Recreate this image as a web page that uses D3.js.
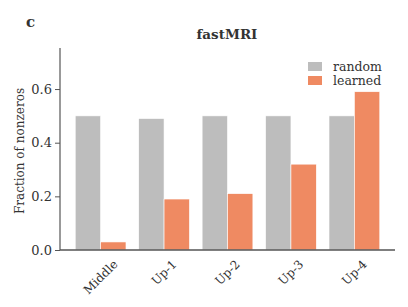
<!DOCTYPE html>
<html>
<head>
<meta charset="utf-8">
<script src="https://cdn.jsdelivr.net/npm/d3@7"></script>
<style>
  body { margin: 0; background: #fff; }
  text { font-family: "DejaVu Serif", "Liberation Serif", serif; fill: #333; }
</style>
</head>
<body>
<svg id="chart" width="408" height="307"></svg>
<script>
var layers = ["Middle", "Up-1", "Up-2", "Up-3", "Up-4"];
var randomVals = [0.50, 0.49, 0.50, 0.50, 0.50];
var learnedVals = [0.03, 0.19, 0.21, 0.32, 0.59];
var yTicks = [0.0, 0.2, 0.4, 0.6];
var seriesNames = ["random", "learned"];
var colors = ["#bdbdbd", "#ef8a62"];

var svg = d3.select("#chart");
var plotLeft = 60, plotRight = 395, plotTop = 48, plotBottom = 250;

var x = d3.scaleLinear().domain([-0.64, 4.64]).range([plotLeft, plotRight]);
var y = d3.scaleLinear().domain([0, 0.753]).range([plotBottom, plotTop]);
var barW = 0.4;

// bars, random left of the tick, learned right of it
var series = [randomVals, learnedVals];
series.forEach(function(vals, s) {
  svg.append("g").selectAll("rect")
    .data(vals)
    .enter().append("rect")
    .attr("x", function(d, i) { return x(i + (s === 0 ? -barW : 0)); })
    .attr("width", x(barW) - x(0))
    .attr("y", function(d) { return y(d); })
    .attr("height", function(d) { return y(0) - y(d); })
    .attr("fill", colors[s])
    .attr("stroke", "#fff")
    .attr("stroke-width", 0.6);
});

// y axis
var yAxis = d3.axisLeft(y).tickValues(yTicks).tickFormat(d3.format(".1f")).tickSize(5).tickPadding(3);
var gy = svg.append("g").attr("transform", "translate(" + plotLeft + ",0)").call(yAxis);
gy.select(".domain").attr("d", "M0," + plotTop + "V" + plotBottom).attr("stroke", "#555").attr("stroke-width", 1.2);
gy.selectAll(".tick line").attr("stroke", "#555");
gy.selectAll(".tick text").style("font-size", "13px").style("font-family", "DejaVu Serif").style("fill", "#333");

// x axis line
svg.append("line")
  .attr("x1", plotLeft).attr("x2", plotRight)
  .attr("y1", plotBottom).attr("y2", plotBottom)
  .attr("stroke", "#555").attr("stroke-width", 1.6);

// x labels: rotated 45deg, centred on the tick, top of the box just under the axis
var labelTop = 259, labelSize = 12;
svg.append("g").selectAll("text")
  .data(layers)
  .enter().append("text")
  .attr("text-anchor", "middle")
  .attr("dominant-baseline", "central")
  .style("font-size", labelSize + "px")
  .text(function(d) { return d; })
  .attr("transform", function(d, i) {
    var len = this.getComputedTextLength();
    var cy = labelTop + (len + labelSize * 0.75) / (2 * Math.SQRT2);
    return "translate(" + x(i) + "," + cy + ") rotate(-45)";
  });

// y label
svg.append("text")
  .attr("transform", "translate(24," + ((plotTop + plotBottom) / 2 + 2) + ") rotate(-90)")
  .attr("text-anchor", "middle")
  .style("font-size", "12px")
  .text("Fraction of nonzeros");

// title
svg.append("text")
  .attr("x", 227).attr("y", 39)
  .attr("text-anchor", "middle")
  .style("font-size", "13.5px")
  .style("font-weight", "bold")
  .text("fastMRI");

// panel letter
svg.append("text")
  .attr("x", 26).attr("y", 27)
  .style("font-size", "15px")
  .style("font-weight", "bold")
  .text("c");

// legend
var lg = svg.append("g").attr("transform", "translate(308,62)");
seriesNames.forEach(function(name, i) {
  lg.append("rect").attr("x", 0).attr("y", i * 14).attr("width", 14).attr("height", 9).attr("fill", colors[i]);
  lg.append("text").attr("x", 25).attr("y", i * 14 + 8.5).style("font-size", "12.5px").text(name);
});
</script>
</body>
</html>
